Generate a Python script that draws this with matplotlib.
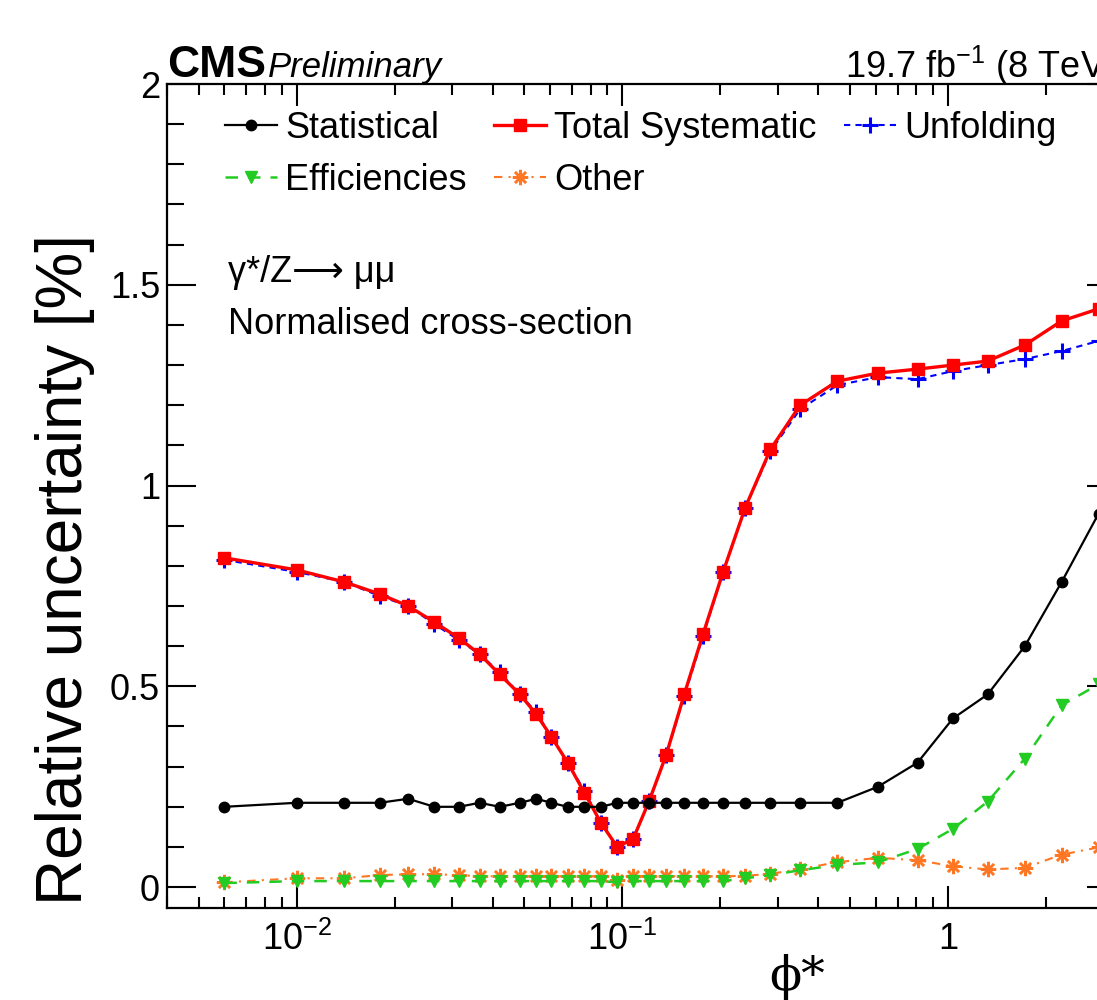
import numpy as np
import matplotlib
matplotlib.use("Agg")
import matplotlib.pyplot as plt
from matplotlib.ticker import FixedLocator, FixedFormatter, LogLocator, MultipleLocator, NullFormatter

plt.rcParams['font.family'] = ['Liberation Sans', 'DejaVu Sans']
plt.rcParams['mathtext.fontset'] = 'custom'
plt.rcParams['mathtext.rm'] = 'Liberation Sans'
plt.rcParams['mathtext.it'] = 'Liberation Sans:italic'
plt.rcParams['mathtext.bf'] = 'Liberation Sans:bold'

# phi* bin centres
phistar = [0.006, 0.010, 0.014, 0.018, 0.022, 0.0265, 0.0315, 0.0365, 0.042,
           0.0485, 0.0545, 0.0605, 0.068, 0.0765, 0.086, 0.0965, 0.108, 0.121,
           0.1365, 0.155, 0.177, 0.204, 0.2385, 0.285, 0.3515, 0.4575, 0.6095,
           0.8065, 1.0355, 1.3245, 1.7215, 2.2345, 2.8995]

statistical = [0.20, 0.21, 0.21, 0.21, 0.22, 0.20, 0.20, 0.21, 0.20,
               0.21, 0.22, 0.21, 0.20, 0.20, 0.20, 0.21, 0.21, 0.21,
               0.21, 0.21, 0.21, 0.21, 0.21, 0.21, 0.21, 0.21, 0.25,
               0.31, 0.42, 0.48, 0.60, 0.76, 0.93]

total_syst = [0.82, 0.79, 0.76, 0.73, 0.70, 0.66, 0.62, 0.58, 0.53,
              0.48, 0.43, 0.375, 0.31, 0.235, 0.16, 0.10, 0.12, 0.215,
              0.33, 0.48, 0.63, 0.785, 0.945, 1.09, 1.20, 1.26, 1.28,
              1.29, 1.30, 1.31, 1.35, 1.41, 1.44]

unfolding = [0.815, 0.785, 0.76, 0.725, 0.70, 0.655, 0.615, 0.58, 0.535,
             0.48, 0.435, 0.375, 0.31, 0.24, 0.16, 0.10, 0.12, 0.215,
             0.33, 0.475, 0.625, 0.785, 0.945, 1.085, 1.19, 1.25, 1.27,
             1.265, 1.285, 1.30, 1.315, 1.335, 1.36]

efficiencies = [0.01, 0.015, 0.015, 0.015, 0.015, 0.015, 0.015, 0.015, 0.015,
                0.015, 0.015, 0.015, 0.015, 0.015, 0.015, 0.012, 0.015, 0.015,
                0.015, 0.015, 0.015, 0.015, 0.022, 0.03, 0.042, 0.055, 0.062,
                0.095, 0.145, 0.213, 0.32, 0.453, 0.505]

other = [0.012, 0.022, 0.022, 0.03, 0.032, 0.032, 0.03, 0.027, 0.027,
         0.027, 0.027, 0.027, 0.027, 0.027, 0.027, 0.018, 0.027, 0.027,
         0.027, 0.027, 0.027, 0.027, 0.028, 0.033, 0.045, 0.062, 0.073,
         0.067, 0.052, 0.044, 0.048, 0.081, 0.099]

yticks = [0, 0.5, 1, 1.5, 2]
ytick_labels = ['0', '0.5', '1', '1.5', '2']
xticks = [0.01, 0.1, 1]
xtick_labels = [r'$10^{-2}$', r'$10^{-1}$', '1']

fig = plt.figure(figsize=(10.97, 10), dpi=100)
ax = fig.add_axes([0.1522, 0.092, 0.865, 0.824])

h_oth, = ax.plot(phistar, other, color='#ff7722', ls=(0, (4, 3, 1, 3)), lw=1.5,
                 marker=(8, 2, 0), ms=11, mew=1.8, label='Other')
h_eff, = ax.plot(phistar, efficiencies, color='#22cc22', ls=(0, (5, 4)), lw=1.8,
                 marker='v', ms=8, label='Efficiencies')
h_unf, = ax.plot(phistar, unfolding, color='#0000ff', ls=(0, (3, 2.5)), lw=1.5,
                 marker='+', ms=11, mew=2.2, label='Unfolding')
h_sys, = ax.plot(phistar, total_syst, color='#ff0000', ls='-', lw=2.4,
                 marker='s', ms=9, label='Total Systematic')
h_stat, = ax.plot(phistar, statistical, color='black', ls='-', lw=1.6,
                  marker='o', ms=7.5, label='Statistical')

ax.set_xscale('log')
ax.set_xlim(0.004, 3.277)
ax.set_ylim(-0.052, 2.0)

ax.xaxis.set_major_locator(FixedLocator(xticks))
ax.xaxis.set_major_formatter(FixedFormatter(xtick_labels))
ax.xaxis.set_minor_locator(LogLocator(base=10, subs=np.arange(2, 10)))
ax.xaxis.set_minor_formatter(NullFormatter())
ax.yaxis.set_major_locator(FixedLocator(yticks))
ax.yaxis.set_major_formatter(FixedFormatter(ytick_labels))
ax.yaxis.set_minor_locator(MultipleLocator(0.1))

ax.tick_params(axis='both', which='both', direction='in', top=True, right=True,
               width=1.5, labelsize=26)
ax.tick_params(axis='x', which='major', length=16, pad=10)
ax.tick_params(axis='x', which='minor', length=8)
ax.tick_params(axis='y', which='major', length=21, pad=5)
ax.tick_params(axis='y', which='minor', length=12)
for sp in ax.spines.values():
    sp.set_linewidth(1.6)

fig.text(0.0595, 0.095, 'Relative uncertainty [%]', rotation=90, fontsize=46,
         ha='center', va='bottom')
fig.text(0.7265, 0.0, '\u03d5*', fontsize=34, ha='center', va='bottom',
         family=['DejaVu Serif'])

fig.text(0.1522, 0.923, 'CMS', fontsize=32, fontweight='bold', va='baseline')
fig.text(0.2443, 0.923, 'Preliminary', fontsize=25, fontstyle='italic', va='baseline')
ax.text(1.0, 1.0 + 6 / 824, r'19.7 fb$^{-1}$ (8 TeV)', transform=ax.transAxes,
        fontsize=26, ha='right', va='baseline')

fig.text(0.208, 0.728, '\u03b3*/Z\u27f6 \u03bc\u03bc', fontsize=26, va='center')
fig.text(0.208, 0.675, 'Normalised cross-section', fontsize=26, va='center')

ax.legend([h_stat, h_eff, h_sys, h_oth, h_unf],
          ['Statistical', 'Efficiencies', 'Total Systematic', 'Other', 'Unfolding'],
          ncol=3, loc='upper left', bbox_to_anchor=(0.205, 0.889),
          bbox_transform=fig.transFigure, frameon=False, fontsize=26,
          handlelength=1.45, handletextpad=0.22, columnspacing=0.75,
          labelspacing=0.47, borderpad=0, borderaxespad=0)

fig.savefig('out.png', dpi=100)
